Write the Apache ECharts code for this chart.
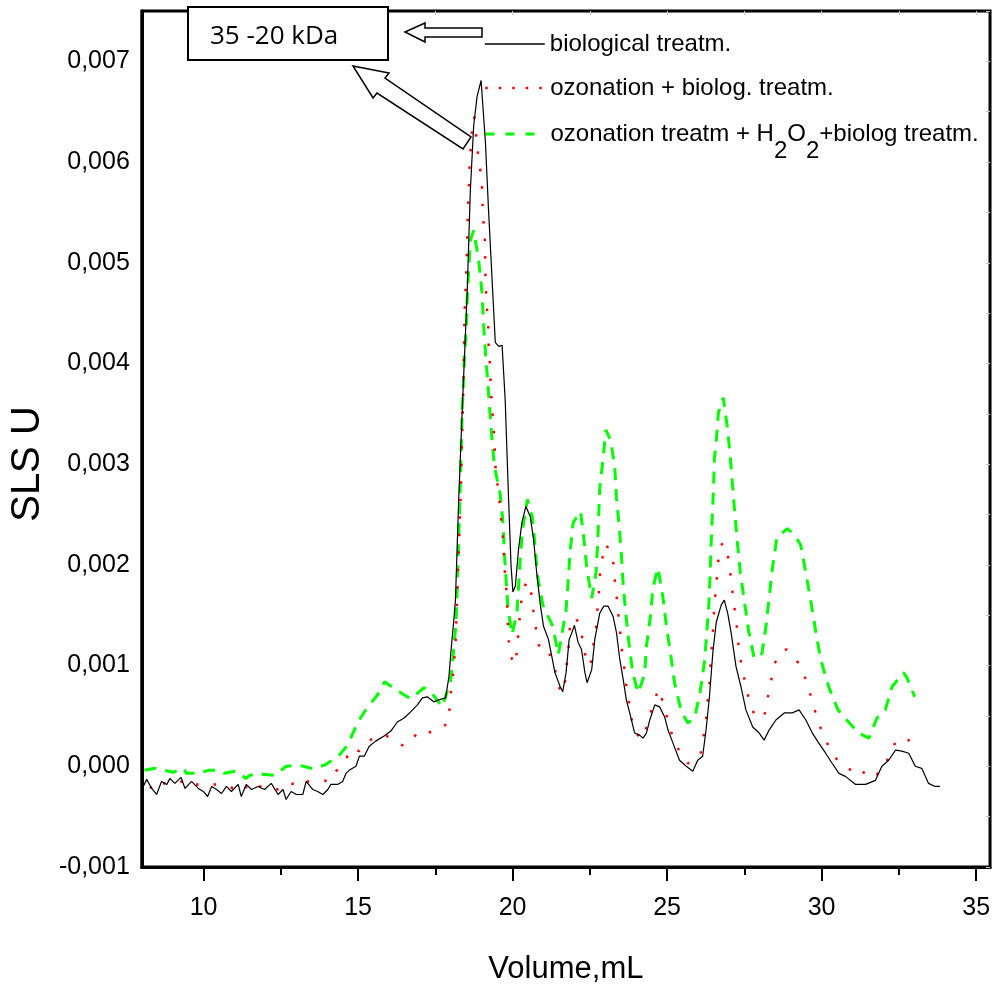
<!DOCTYPE html>
<html><head><meta charset="utf-8">
<script src="https://cdn.jsdelivr.net/npm/echarts@6/dist/echarts.min.js"></script>
<style>html,body{margin:0;padding:0;background:#fff}#c{width:993px;height:992px}</style>
</head><body><div id="c"></div>
<script>
// ---- data (Volume, mL ; SLS U) ----
const volumeTicks = [10, 15, 20, 25, 30, 35];
const volumeMinorTicks = [12.5, 17.5, 22.5, 27.5, 32.5];
const volumeAllTicks = [10, 12.5, 15, 17.5, 20, 22.5, 25, 27.5, 30, 32.5, 35];

const seriesNames = ['biological treatm.', 'ozonation + biolog. treatm.', 'ozonation treatm + H2O2+biolog treatm.'];

// biological treatm. (black solid)
const bioX = [8.00,8.16,8.32,8.48,8.64,8.81,8.91,9.07,9.27,9.40,
9.61,9.83,9.99,10.13,10.26,10.42,10.58,10.74,10.90,11.12,
11.22,11.38,11.55,11.76,11.97,12.19,12.41,12.57,12.67,12.83,
13.00,13.21,13.32,13.53,13.69,13.86,14.02,14.12,14.34,14.50,
14.61,14.71,14.93,15.04,15.20,15.36,15.57,15.84,16.06,16.27,
16.49,16.70,16.92,17.08,17.24,17.45,17.61,17.83,17.94,18.01,
18.10,18.15,18.25,18.37,18.53,18.63,18.74,18.85,18.98,19.12,
19.22,19.33,19.44,19.55,19.66,19.76,19.87,19.95,20.01,20.09,
20.19,20.30,20.43,20.57,20.68,20.78,20.89,21.00,21.16,21.27,
21.37,21.54,21.62,21.73,21.83,21.91,22.00,22.12,22.23,22.34,
22.41,22.56,22.66,22.82,22.95,23.09,23.25,23.36,23.47,23.58,
23.68,23.79,23.95,24.11,24.22,24.33,24.44,24.60,24.76,24.92,
25.03,25.19,25.40,25.62,25.83,25.99,26.15,26.26,26.37,26.48,
26.59,26.75,26.85,26.96,27.07,27.23,27.39,27.55,27.77,27.98,
28.14,28.30,28.52,28.79,29.05,29.27,29.49,29.70,29.91,30.13,
30.34,30.56,30.77,31.10,31.42,31.74,31.95,32.17,32.39,32.60,
32.82,33.03,33.24,33.46,33.67,33.83];
const bioY = [-0.23e-3,-0.13e-3,-0.22e-3,-0.28e-3,-0.15e-3,-0.18e-3,-0.12e-3,-0.17e-3,-0.11e-3,-0.22e-3,
-0.15e-3,-0.22e-3,-0.25e-3,-0.30e-3,-0.20e-3,-0.23e-3,-0.27e-3,-0.20e-3,-0.25e-3,-0.18e-3,
-0.30e-3,-0.18e-3,-0.23e-3,-0.20e-3,-0.23e-3,-0.17e-3,-0.28e-3,-0.23e-3,-0.33e-3,-0.25e-3,
-0.28e-3,-0.28e-3,-0.15e-3,-0.23e-3,-0.25e-3,-0.28e-3,-0.23e-3,-0.18e-3,-0.18e-3,-0.15e-3,
-0.07e-3,-0.04e-3,0.00e-3,0.10e-3,0.10e-3,0.20e-3,0.25e-3,0.30e-3,0.35e-3,0.44e-3,
0.48e-3,0.54e-3,0.61e-3,0.68e-3,0.69e-3,0.64e-3,0.66e-3,0.68e-3,0.89e-3,1.16e-3,
1.46e-3,1.65e-3,2.60e-3,3.54e-3,4.70e-3,5.70e-3,6.36e-3,6.65e-3,6.81e-3,6.20e-3,
5.53e-3,4.87e-3,4.21e-3,4.17e-3,4.18e-3,3.64e-3,2.65e-3,1.99e-3,1.73e-3,1.79e-3,
2.15e-3,2.42e-3,2.58e-3,2.48e-3,2.25e-3,1.92e-3,1.62e-3,1.39e-3,1.26e-3,1.09e-3,
0.93e-3,0.79e-3,0.74e-3,0.93e-3,1.26e-3,1.32e-3,1.40e-3,1.23e-3,1.16e-3,0.93e-3,
0.83e-3,0.96e-3,1.26e-3,1.52e-3,1.59e-3,1.59e-3,1.49e-3,1.33e-3,1.06e-3,0.86e-3,
0.66e-3,0.53e-3,0.33e-3,0.31e-3,0.28e-3,0.33e-3,0.46e-3,0.61e-3,0.59e-3,0.49e-3,
0.36e-3,0.23e-3,0.06e-3,0.00e-3,-0.05e-3,0.06e-3,0.10e-3,0.36e-3,0.69e-3,1.13e-3,
1.43e-3,1.60e-3,1.65e-3,1.52e-3,1.33e-3,0.99e-3,0.79e-3,0.56e-3,0.39e-3,0.33e-3,
0.26e-3,0.36e-3,0.46e-3,0.53e-3,0.53e-3,0.56e-3,0.46e-3,0.33e-3,0.23e-3,0.13e-3,
0.03e-3,-0.07e-3,-0.10e-3,-0.18e-3,-0.18e-3,-0.14e-3,0.00e-3,0.06e-3,0.16e-3,0.15e-3,
0.13e-3,0.00e-3,-0.02e-3,-0.17e-3,-0.20e-3,-0.20e-3];

// ozonation + biolog. treatm. (red dotted)
const ozoX = [8.27,8.48,8.81,9.13,9.40,9.56,9.77,10.04,10.26,10.47,
10.74,11.01,11.28,11.49,11.81,12.08,12.41,12.67,12.83,13.16,
13.37,13.64,13.86,14.09,14.28,14.55,14.77,15.04,15.31,15.68,
15.90,16.16,16.49,16.70,16.97,17.29,17.56,17.88,17.97,18.01,
18.08,18.12,18.16,18.18,18.31,18.40,18.42,18.45,18.50,18.53,
18.56,18.60,18.63,18.72,18.76,18.82,18.88,18.96,19.01,19.03,
19.06,19.10,19.11,19.12,19.14,19.17,19.21,19.22,19.26,19.31,
19.35,19.39,19.42,19.44,19.50,19.57,19.62,19.68,19.71,19.74,
19.79,19.82,19.84,19.87,19.92,20.08,20.16,20.19,20.25,20.30,
20.46,20.60,20.67,20.75,20.84,21.00,21.19,21.37,21.48,21.64,
21.72,21.77,21.83,21.86,22.05,22.21,22.31,22.42,22.53,22.61,
22.70,22.74,22.79,22.82,22.90,23.02,23.25,23.29,23.36,23.41,
23.47,23.52,23.60,23.65,23.74,23.82,23.95,24.20,24.38,24.52,
24.73,24.89,25.03,25.19,25.43,25.67,25.96,26.08,26.18,26.26,
26.31,26.37,26.40,26.44,26.48,26.51,26.55,26.60,26.65,26.72,
26.82,26.94,27.01,27.09,27.14,27.23,27.28,27.34,27.44,27.57,
27.68,27.87,28.14,28.25,28.36,28.46,28.71,28.87,29.16,29.40,
29.56,29.73,29.88,30.07,30.29,30.59,30.77,31.24,31.50,31.79,
32.06,32.19,32.36,32.58,32.81,33.03];
const ozoY = [-0.22e-3,-0.14e-3,-0.18e-3,-0.17e-3,-0.14e-3,-0.18e-3,-0.18e-3,-0.18e-3,-0.18e-3,-0.18e-3,
-0.20e-3,-0.22e-3,-0.17e-3,-0.25e-3,-0.20e-3,-0.20e-3,-0.23e-3,-0.22e-3,-0.17e-3,-0.20e-3,
-0.15e-3,-0.15e-3,-0.14e-3,-0.15e-3,-0.05e-3,0.03e-3,0.18e-3,0.15e-3,0.25e-3,0.30e-3,
0.31e-3,0.25e-3,0.20e-3,0.25e-3,0.35e-3,0.33e-3,0.40e-3,0.41e-3,0.59e-3,0.76e-3,
0.93e-3,1.09e-3,1.26e-3,1.44e-3,2.60e-3,3.67e-3,4.04e-3,4.54e-3,4.87e-3,5.23e-3,
5.56e-3,5.91e-3,6.08e-3,6.43e-3,6.45e-3,6.26e-3,6.08e-3,5.91e-3,5.75e-3,5.57e-3,
5.40e-3,5.23e-3,5.06e-3,4.88e-3,4.71e-3,4.54e-3,4.37e-3,4.20e-3,4.02e-3,3.67e-3,
3.51e-3,3.34e-3,3.16e-3,2.99e-3,2.82e-3,2.65e-3,2.48e-3,2.30e-3,2.13e-3,1.96e-3,
1.79e-3,1.61e-3,1.45e-3,1.27e-3,1.10e-3,1.01e-3,1.19e-3,1.36e-3,1.53e-3,1.70e-3,
1.84e-3,1.72e-3,1.55e-3,1.38e-3,1.21e-3,1.11e-3,1.12e-3,0.97e-3,0.79e-3,0.73e-3,
0.89e-3,1.07e-3,1.24e-3,1.42e-3,1.48e-3,1.35e-3,1.17e-3,1.00e-3,1.02e-3,1.20e-3,
1.37e-3,1.54e-3,1.72e-3,1.89e-3,2.06e-3,2.21e-3,2.06e-3,1.89e-3,1.71e-3,1.54e-3,
1.37e-3,1.19e-3,1.02e-3,0.86e-3,0.69e-3,0.51e-3,0.34e-3,0.27e-3,0.43e-3,0.60e-3,
0.77e-3,0.61e-3,0.45e-3,0.28e-3,0.13e-3,0.03e-3,0.07e-3,0.12e-3,0.30e-3,0.47e-3,
0.64e-3,0.81e-3,0.98e-3,1.16e-3,1.33e-3,1.50e-3,1.67e-3,1.84e-3,2.02e-3,2.19e-3,
2.22e-3,2.16e-3,1.99e-3,1.82e-3,1.65e-3,1.47e-3,1.30e-3,1.12e-3,0.95e-3,0.78e-3,
0.61e-3,0.49e-3,0.49e-3,0.67e-3,0.84e-3,1.01e-3,1.15e-3,1.16e-3,1.07e-3,0.94e-3,
0.79e-3,0.62e-3,0.44e-3,0.31e-3,0.15e-3,0.03e-3,0.00e-3,-0.10e-3,-0.02e-3,-0.08e-3,
0.01e-3,0.11e-3,0.22e-3,0.29e-3,0.26e-3,0.22e-3];

// ozonation treatm + H2O2 + biolog treatm. (green dashed)
const h2o2X = [8.09,8.43,9.02,9.34,9.45,9.83,10.15,10.52,10.68,11.01,
11.38,11.49,11.92,12.30,12.67,13.10,13.48,13.91,14.36,14.66,
14.98,15.20,15.63,15.86,16.22,16.70,17.13,17.35,17.72,17.99,
18.08,18.15,18.18,18.28,18.37,18.45,18.51,18.53,18.58,18.63,
18.74,18.90,19.01,19.06,19.12,19.19,19.25,19.33,19.41,19.60,
19.69,19.73,19.79,19.85,19.98,20.14,20.25,20.33,20.48,20.64,
20.73,20.80,20.98,21.30,21.48,21.73,21.80,21.86,21.96,22.20,
22.31,22.40,22.56,22.70,22.75,22.82,22.93,23.02,23.18,23.31,
23.36,23.45,23.52,23.58,23.66,23.76,23.88,24.06,24.27,24.33,
24.46,24.54,24.70,24.86,24.97,25.11,25.24,25.46,25.67,25.89,
26.07,26.21,26.28,26.35,26.39,26.42,26.46,26.50,26.53,26.59,
26.66,26.82,26.96,27.05,27.12,27.20,27.28,27.37,27.50,27.64,
27.82,28.07,28.20,28.30,28.41,28.55,28.89,29.11,29.32,29.49,
29.65,29.81,29.97,30.24,30.53,30.90,31.20,31.53,31.79,32.06,
32.28,32.65,32.76,33.01];
const h2o2Y = [-0.04e-3,-0.02e-3,-0.06e-3,-0.02e-3,-0.07e-3,-0.07e-3,-0.04e-3,-0.04e-3,-0.07e-3,-0.05e-3,
-0.12e-3,-0.09e-3,-0.08e-3,-0.09e-3,0.00e-3,0.01e-3,-0.02e-3,0.01e-3,0.10e-3,0.21e-3,
0.43e-3,0.54e-3,0.71e-3,0.84e-3,0.76e-3,0.67e-3,0.78e-3,0.74e-3,0.59e-3,0.84e-3,
1.12e-3,1.36e-3,1.52e-3,2.50e-3,3.54e-3,4.11e-3,4.40e-3,4.64e-3,4.93e-3,5.22e-3,
5.32e-3,5.03e-3,4.70e-3,4.40e-3,4.11e-3,3.84e-3,3.58e-3,3.26e-3,2.98e-3,2.70e-3,
2.42e-3,2.13e-3,1.85e-3,1.57e-3,1.31e-3,1.52e-3,2.08e-3,2.37e-3,2.65e-3,2.47e-3,
2.18e-3,1.90e-3,1.60e-3,1.39e-3,1.11e-3,1.55e-3,1.85e-3,2.13e-3,2.42e-3,2.53e-3,
2.25e-3,1.97e-3,1.67e-3,1.92e-3,2.20e-3,2.76e-3,3.06e-3,3.34e-3,3.23e-3,2.95e-3,
2.67e-3,2.38e-3,2.10e-3,1.80e-3,1.52e-3,1.24e-3,0.94e-3,0.73e-3,0.91e-3,1.19e-3,
1.49e-3,1.77e-3,1.97e-3,1.69e-3,1.41e-3,1.12e-3,0.83e-3,0.54e-3,0.43e-3,0.48e-3,
0.74e-3,1.04e-3,1.32e-3,1.60e-3,1.89e-3,2.18e-3,2.47e-3,2.75e-3,3.05e-3,3.23e-3,
3.51e-3,3.66e-3,3.34e-3,3.05e-3,2.78e-3,2.48e-3,2.20e-3,1.92e-3,1.64e-3,1.34e-3,
1.07e-3,1.12e-3,1.39e-3,1.67e-3,1.97e-3,2.27e-3,2.36e-3,2.30e-3,2.20e-3,1.92e-3,
1.64e-3,1.34e-3,1.06e-3,0.78e-3,0.56e-3,0.43e-3,0.33e-3,0.28e-3,0.48e-3,0.56e-3,
0.79e-3,0.93e-3,0.88e-3,0.69e-3];

// ---- chart ----
const SANS = "'Liberation Sans', Arial, sans-serif";
const zip = (xs, ys) => xs.map((x, i) => [x, ys[i]]);
const X_MIN = 8, X_MAX = 35.45, Y_MIN = -0.001, Y_MAX = 0.0075;

const chart = echarts.init(document.getElementById('c'), null, {renderer: 'canvas'});
const legendBase = {
  padding: 0, itemWidth: 60, itemHeight: 14, left: 484, selectedMode: false,
  itemStyle: {opacity: 0},
  textStyle: {fontFamily: SANS, fontSize: 24, lineHeight: 30, color: '#000'}
};
chart.setOption({
  animation: false,
  backgroundColor: '#fff',
  grid: {left: 140, top: 11, right: 2, bottom: 125, show: true, borderColor: '#000', borderWidth: 3, backgroundColor: 'transparent'},
  xAxis: [
    {type: 'value', min: X_MIN, max: X_MAX, position: 'bottom',
     axisLine: {show: true, onZero: false, lineStyle: {color: '#000', width: 3}},
     axisTick: {show: true, customValues: volumeTicks, length: 14, lineStyle: {color: '#000', width: 2}},
     axisLabel: {customValues: volumeTicks, fontFamily: SANS, fontSize: 25, color: '#000', margin: 29},
     splitLine: {show: false},
     name: 'Volume,mL', nameLocation: 'middle', nameGap: 87,
     nameTextStyle: {fontFamily: SANS, fontSize: 31, color: '#000'}},
    {type: 'value', min: X_MIN, max: X_MAX, position: 'bottom',
     axisLine: {show: false, onZero: false},
     axisTick: {show: true, customValues: volumeMinorTicks, length: 8, lineStyle: {color: '#000', width: 2}},
     axisLabel: {show: false}, splitLine: {show: false}},
    {type: 'value', min: X_MIN, max: X_MAX, position: 'top',
     axisLine: {show: false, onZero: false},
     axisTick: {show: true, inside: true, customValues: volumeAllTicks, length: 4, lineStyle: {color: '#c8c8c8', width: 1}},
     axisLabel: {show: false}, splitLine: {show: false}}
  ],
  yAxis: [
    {type: 'value', min: Y_MIN, max: Y_MAX, interval: 0.001, position: 'left',
     axisLine: {show: true, onZero: false, lineStyle: {color: '#000', width: 3}},
     axisTick: {show: false},
     axisLabel: {fontFamily: SANS, fontSize: 25, color: '#000', margin: 12, showMaxLabel: false,
                 formatter: v => v.toFixed(3).replace('.', ',')},
     splitLine: {show: false},
     name: 'SLS U', nameLocation: 'middle', nameGap: 89,
     nameTextStyle: {fontFamily: SANS, fontSize: 40, color: '#000', padding: [0, 50, 0, 0]}},
    {type: 'value', min: Y_MIN, max: Y_MAX, interval: 0.0005, position: 'right',
     axisLine: {show: false, onZero: false},
     axisTick: {show: true, inside: true, length: 4, lineStyle: {color: '#c8c8c8', width: 1}},
     axisLabel: {show: false}, splitLine: {show: false}}
  ],
  legend: [
    Object.assign({}, legendBase, {data: [seriesNames[0]], top: 29, lineStyle: {width: 1.6, color: '#000'}}),
    Object.assign({}, legendBase, {data: [seriesNames[1]], top: 73, lineStyle: {width: 2.5, type: [2.5, 11]}}),
    Object.assign({}, legendBase, {data: [seriesNames[2]], top: 119, lineStyle: {width: 3, type: [9, 11]},
      formatter: () => 'ozonation treatm + H{s|2}O{s|2}+biolog treatm.',
      textStyle: {fontFamily: SANS, fontSize: 24, lineHeight: 30, color: '#000',
        rich: {s: {fontFamily: SANS, fontSize: 24, color: '#000', padding: [34, 0, 0, 0]}}}})
  ],
  series: [
    {name: seriesNames[2], type: 'line', data: zip(h2o2X, h2o2Y), symbol: 'none', z: 2,
     lineStyle: {color: '#00ff00', width: 3, type: [12, 9]}, itemStyle: {color: '#00ff00'}},
    {name: seriesNames[1], type: 'line', data: zip(ozoX, ozoY), symbol: 'none', z: 3,
     lineStyle: {color: '#ff0000', width: 2.5, type: [2.5, 15]}, itemStyle: {color: '#ff0000'}},
    {name: seriesNames[0], type: 'line', data: zip(bioX, bioY), symbol: 'none', z: 4,
     lineStyle: {color: '#000', width: 1.2}, itemStyle: {color: '#000'}}
  ],
  graphic: [
    {type: 'rect', z: 100, shape: {x: 188, y: 7, width: 200, height: 53},
     style: {fill: '#fff', stroke: '#000', lineWidth: 2}},
    {type: 'text', z: 101, x: 210, y: 37,
     style: {text: '35 -20 kDa', font: '26px "Open Sans", "Noto Sans", sans-serif', fill: '#000', verticalAlign: 'middle'}},
    {type: 'polygon', z: 100,
     shape: {points: [[405, 32], [425, 23], [425, 28], [482, 28], [482, 37], [425, 37], [425, 42]]},
     style: {fill: '#fff', stroke: '#000', lineWidth: 1.5}},
    {type: 'polygon', z: 100,
     shape: {points: [[353, 66], [389, 73], [385, 78], [471, 137], [463, 149], [377, 93], [373, 98]]},
     style: {fill: '#fff', stroke: '#000', lineWidth: 1.5}}
  ]
});
</script>
</body></html>
